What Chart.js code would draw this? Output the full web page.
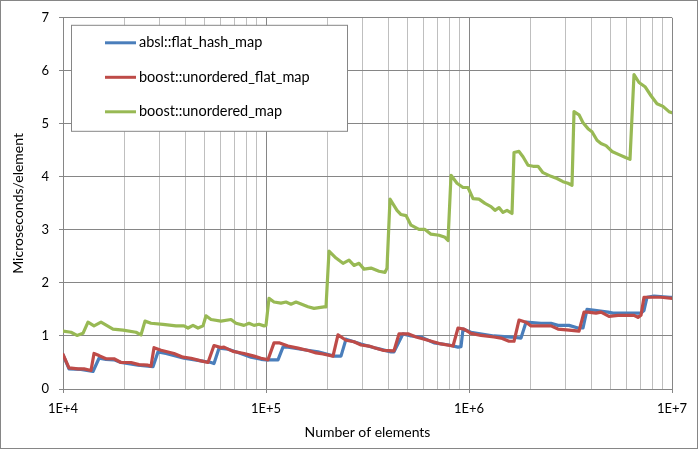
<!DOCTYPE html>
<html>
<head>
<meta charset="utf-8">
<script src="https://cdn.jsdelivr.net/npm/chart.js@4.4.1/dist/chart.umd.min.js"></script>
<style>
  body { margin: 0; background: #fff; }
  canvas { display: block; }
</style>
</head>
<body>
<canvas id="chart" width="698" height="449"></canvas>
<script>
// Series labels
const seriesLabels = ['absl::flat_hash_map', 'boost::unordered_flat_map', 'boost::unordered_map'];

// absl::flat_hash_map
const flatHashN = [10000, 10704, 12264, 14055, 15046, 16287, 17835, 19307, 23412, 27754,
    29375, 32166, 39451, 47852, 53586, 55441, 58676, 64988, 72791, 84368,
    94496, 100000, 114580, 121250, 128330, 148750, 180390, 216270, 234120, 247800,
    293750, 348330, 412810, 427110, 473060, 517950, 580160, 672340, 797160, 882810,
    913370, 934320, 1022900, 1327700, 1610300, 1803900, 1909000, 2262800, 2534600, 2744000,
    3109000, 3442100, 3644900, 3813900, 4081700, 4840400, 5120900, 6498800, 7035600, 7279100,
    7532900, 8154600, 9775800, 10000000];
const flatHashUs = [0.65, 0.38, 0.37, 0.33, 0.58, 0.56, 0.55, 0.50, 0.45, 0.42,
    0.70, 0.67, 0.58, 0.53, 0.50, 0.48, 0.77, 0.75, 0.69, 0.60,
    0.56, 0.55, 0.55, 0.79, 0.79, 0.75, 0.70, 0.62, 0.62, 0.94,
    0.85, 0.77, 0.70, 0.70, 1.04, 1.00, 0.98, 0.87, 0.83, 0.79,
    0.80, 1.13, 1.07, 1.00, 0.98, 0.96, 1.26, 1.24, 1.24, 1.20,
    1.20, 1.15, 1.15, 1.50, 1.49, 1.45, 1.43, 1.43, 1.43, 1.48,
    1.73, 1.75, 1.73, 1.73];

// boost::unordered_flat_map
const unorderedFlatN = [10000, 10704, 11853, 12688, 13740, 14215, 15046, 16287, 17835, 19307,
    21627, 23679, 26223, 27131, 28071, 30392, 35230, 39006, 42711, 47852,
    51795, 55441, 60024, 62101, 68777, 77929, 87286, 94496, 100000, 102290,
    109500, 115900, 128330, 143780, 162870, 176340, 190900, 213830, 226280, 247800,
    271310, 293750, 321660, 348330, 377110, 427110, 452040, 500630, 548180, 628080,
    727910, 834180, 882810, 944960, 1022900, 1145800, 1327700, 1437800, 1574500, 1666100,
    1763400, 1909000, 2020700, 2534600, 2744000, 3109000, 3483300, 3686500, 3857500, 4223000,
    4469300, 4895100, 5420000, 6498800, 6800000, 7035600, 7279100, 7705200, 8828100, 10000000];
const unorderedFlatUs = [0.65, 0.40, 0.38, 0.38, 0.35, 0.67, 0.63, 0.57, 0.57, 0.50,
    0.50, 0.46, 0.45, 0.43, 0.78, 0.73, 0.67, 0.60, 0.58, 0.53,
    0.50, 0.82, 0.78, 0.79, 0.71, 0.67, 0.62, 0.58, 0.56, 0.55,
    0.87, 0.87, 0.81, 0.77, 0.72, 0.68, 0.66, 0.62, 1.02, 0.92,
    0.89, 0.83, 0.81, 0.77, 0.73, 0.72, 1.04, 1.04, 0.98, 0.92,
    0.85, 0.81, 1.15, 1.13, 1.05, 1.01, 0.98, 0.96, 0.90, 0.90,
    1.30, 1.26, 1.19, 1.19, 1.13, 1.11, 1.09, 1.45, 1.45, 1.43,
    1.45, 1.37, 1.39, 1.39, 1.35, 1.39, 1.73, 1.73, 1.73, 1.71];

// boost::unordered_map
const unorderedN = [10000, 10950, 11720, 12545, 13277, 14215, 15391, 17634, 19751, 22887,
    24223, 25346, 27131, 31090, 36038, 39451, 41281, 43690, 46244, 48951,
    50631, 53586, 60024, 67234, 71157, 77929, 82476, 87286, 92379, 97758,
    100000, 103460, 109500, 118530, 125450, 132770, 140550, 161030, 172380, 193070,
    197510, 204370, 221250, 239500, 256360, 271310, 287170, 303920, 329030, 360380,
    385750, 394510, 408170, 441890, 462440, 489510, 517950, 567130, 607070, 649880,
    711570, 761830, 788160, 815460, 872860, 934320, 988720, 1046400, 1120100, 1198900,
    1283300, 1342900, 1405500, 1470800, 1539100, 1628700, 1666100, 1763400, 1845200, 1952900,
    2067200, 2187800, 2314800, 2534600, 2713100, 2904300, 3074100, 3216600, 3290300, 3483300,
    3644900, 3857500, 4035600, 4271100, 4469300, 4730600, 5063100, 5481800, 5867600, 6210100,
    6498800, 6877700, 7362100, 7881600, 8436800, 9030200, 9665500, 10000000];
const unorderedUs = [1.09, 1.07, 1.01, 1.05, 1.26, 1.19, 1.26, 1.13, 1.11, 1.07,
    1.02, 1.28, 1.24, 1.22, 1.19, 1.19, 1.15, 1.20, 1.15, 1.19,
    1.38, 1.31, 1.28, 1.31, 1.24, 1.20, 1.24, 1.20, 1.22, 1.19,
    1.20, 1.71, 1.64, 1.62, 1.64, 1.60, 1.64, 1.55, 1.52, 1.55,
    1.55, 2.60, 2.47, 2.37, 2.43, 2.33, 2.37, 2.26, 2.28, 2.22,
    2.20, 2.28, 3.58, 3.37, 3.29, 3.27, 3.09, 3.01, 3.01, 2.92,
    2.90, 2.86, 2.80, 4.03, 3.88, 3.80, 3.80, 3.59, 3.58, 3.50,
    3.44, 3.37, 3.42, 3.33, 3.37, 3.31, 4.46, 4.48, 4.38, 4.22,
    4.20, 4.20, 4.08, 4.01, 3.97, 3.91, 3.88, 3.84, 5.23, 5.17,
    5.02, 4.91, 4.85, 4.69, 4.63, 4.59, 4.48, 4.42, 4.37, 4.33,
    5.93, 5.78, 5.70, 5.53, 5.38, 5.33, 5.23, 5.21];

// Axis ticks
const xMajorTicks = [1e4, 1e5, 1e6, 1e7];
const xTickLabels = ['1E+4', '1E+5', '1E+6', '1E+7'];
const yMin = 0, yMax = 7;

const seriesColors = ['#4A7EBB', '#BE4B48', '#98B954'];
const gridDark = '#868686';
const gridLight = '#BFBFBF';

// grid lines at 1..9 x each decade
const xGridTicks = [];
for (let d = 0; d < xMajorTicks.length - 1; d++) {
    for (let m = 1; m < 10; m++) xGridTicks.push(xMajorTicks[d] * m);
}
xGridTicks.push(xMajorTicks[xMajorTicks.length - 1]);

const toPoints = (ns, vs) => ns.map((n, i) => ({ x: n, y: vs[i] }));

function makeDataset(i, ns, vs, order) {
    return {
        label: seriesLabels[i],
        data: toPoints(ns, vs),
        borderColor: seriesColors[i],
        backgroundColor: seriesColors[i],
        borderWidth: 3.2,
        borderJoinStyle: 'round',
        borderCapStyle: 'round',
        pointRadius: 0,
        tension: 0,
        order: order
    };
}

// white background + outer frame + legend box
const chartDecor = {
    id: 'chartDecor',
    beforeDraw(chart) {
        const ctx = chart.ctx;
        ctx.save();
        ctx.fillStyle = '#fff';
        ctx.fillRect(0, 0, chart.width, chart.height);
        ctx.restore();
    },
    afterDraw(chart) {
        const ctx = chart.ctx;
        const area = chart.chartArea;
        ctx.save();
        ctx.strokeStyle = gridDark;
        ctx.lineWidth = 1;
        ctx.strokeRect(0.5, 0.5, chart.width - 1, chart.height - 1);

        // legend
        const bx = area.left + 8, by = area.top + 7, bw = 276, bh = 106;
        ctx.fillStyle = '#fff';
        ctx.fillRect(bx + 0.5, by + 0.5, bw, bh);
        ctx.strokeStyle = gridDark;
        ctx.strokeRect(bx + 0.5, by + 0.5, bw, bh);
        ctx.font = '14.5px Lato';
        ctx.textBaseline = 'middle';
        ctx.textAlign = 'left';
        seriesLabels.forEach((label, i) => {
            const y = by + 18 + i * 34.5;
            ctx.strokeStyle = seriesColors[i];
            ctx.lineWidth = 3;
            ctx.lineCap = 'butt';
            ctx.beginPath();
            ctx.moveTo(bx + 34, y);
            ctx.lineTo(bx + 65, y);
            ctx.stroke();
            ctx.fillStyle = '#000';
            ctx.fillText(label, bx + 68, y);
        });
        ctx.restore();
    }
};

new Chart(document.getElementById('chart'), {
    type: 'line',
    data: {
        datasets: [
            makeDataset(0, flatHashN, flatHashUs, 3),
            makeDataset(1, unorderedFlatN, unorderedFlatUs, 2),
            makeDataset(2, unorderedN, unorderedUs, 1)
        ]
    },
    options: {
        responsive: false,
        animation: false,
        events: [],
        layout: { padding: { left: 0, right: 26, top: 17, bottom: 0 } },
        plugins: {
            legend: { display: false },
            tooltip: { enabled: false }
        },
        scales: {
            x: {
                type: 'logarithmic',
                min: xMajorTicks[0],
                max: xMajorTicks[xMajorTicks.length - 1],
                afterBuildTicks: (scale) => {
                    scale.ticks = xGridTicks.map(v => ({ value: v, major: xMajorTicks.includes(v) }));
                },
                afterFit: (scale) => { scale.height = 60; },
                ticks: {
                    autoSkip: false,
                    maxRotation: 0,
                    padding: 8,
                    color: '#000',
                    font: { family: 'Lato', size: 13 },
                    callback: (value) => {
                        const idx = xMajorTicks.indexOf(value);
                        return idx >= 0 ? xTickLabels[idx] : '';
                    }
                },
                grid: {
                    color: (c) => (c.tick && xMajorTicks.includes(c.tick.value)) ? gridDark : gridLight,
                    tickColor: (c) => (c.tick && xMajorTicks.includes(c.tick.value)) ? gridDark : 'rgba(0,0,0,0)',
                    tickLength: 4,
                    lineWidth: 1
                },
                border: { color: gridDark },
                title: {
                    display: true,
                    text: 'Number of elements',
                    color: '#000',
                    font: { family: 'Lato', size: 14 },
                    padding: { top: 0, bottom: 8 }
                }
            },
            y: {
                min: yMin,
                max: yMax,
                afterFit: (scale) => { scale.width = 63; },
                ticks: {
                    stepSize: 1,
                    padding: 10,
                    color: '#000',
                    font: { family: 'Lato', size: 13 }
                },
                grid: {
                    color: gridDark,
                    tickLength: 4,
                    lineWidth: 1
                },
                border: { color: gridDark },
                title: {
                    display: true,
                    text: 'Microseconds/element',
                    color: '#000',
                    font: { family: 'Lato', size: 14 },
                    padding: { top: 10, bottom: 0 }
                }
            }
        }
    },
    plugins: [chartDecor]
});
</script>
</body>
</html>
